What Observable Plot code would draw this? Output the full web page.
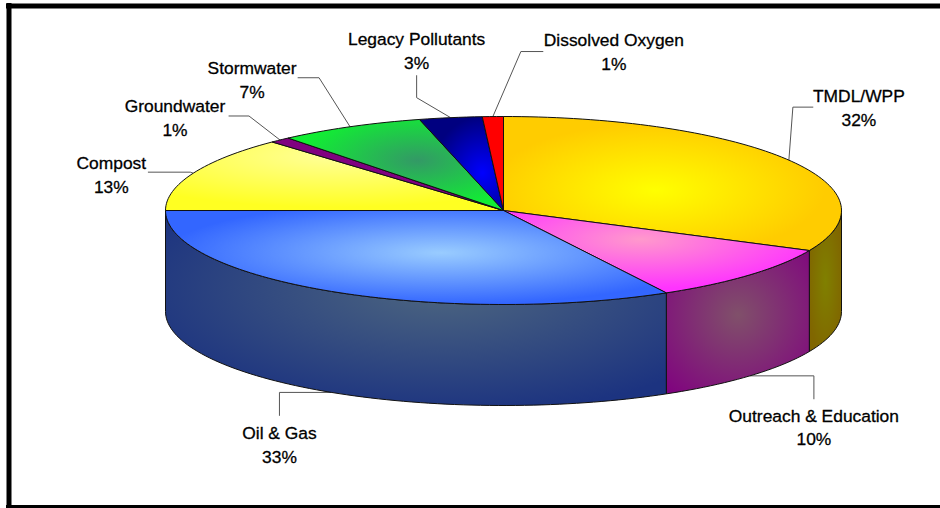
<!DOCTYPE html>
<html>
<head>
<meta charset="utf-8">
<script src="https://cdn.jsdelivr.net/npm/d3@7"></script>
<script src="https://cdn.jsdelivr.net/npm/@observablehq/plot@0.6"></script>
<style>
html,body{margin:0;padding:0;background:#fff;overflow:hidden}
svg{display:block}
</style>
</head>
<body>
<div id="chart"></div>
<script>
// Data, clockwise from 12 o'clock
const categories = ["TMDL/WPP","Outreach & Education","Oil & Gas","Compost","Groundwater","Stormwater","Legacy Pollutants","Dissolved Oxygen"];
const percents = [32,10,33,13,1,7,3,1];

// Gradient colours [centre, edge]
const topColors = [["#ffff00","#ffcc00"],["#ff99cc","#ff33ff"],["#99ccff","#3366ff"],["#ffff99","#ffff22"],["#800080","#800080"],["#339966","#11ee33"],["#0000ff","#000080"],["#ff0000","#ff0000"]];
const wallColors = [["#808000","#806600"],["#80506a","#800080"],["#4d6680","#1c3380"]];

// Pie geometry in chart units
const cx = 503, cy = 210, rx = 338, ry = 94, depth = 101;
// Annotation layout: offsets from the rim anchor of each slice
const elbowOffset = [[4,-53],[64,0],[-52,0],[-3,-1],[-31,-24],[-31,-49],[-34,-20],[28,-65]];
const endOffset = [[24,-53],[64,23],[-52,23],[-45,-1],[-51,-24],[-52,-49],[-34,-42],[50,-65]];
const labelOffset = [[70,-54],[64,50],[-52,51],[-82,0],[-105,-24],[-98,-48],[-34,-68],[121,-66]];

const total = d3.sum(percents);
let acc = 0;
const slices = categories.map((name, i) => {
  const a0 = acc / total * 360; acc += percents[i]; const a1 = acc / total * 360;
  return {name, i, pct: percents[i], a0, a1, mid: (a0 + a1) / 2};
});
const rim = (deg, drop = 0) => {
  const t = deg * Math.PI / 180;
  return {x: cx + rx * Math.sin(t), y: cy - ry * Math.cos(t) + drop};
};
const arc = (a0, a1, drop = 0) => {
  const n = Math.max(2, Math.ceil((a1 - a0) / 1.5));
  return d3.range(n + 1).map(k => rim(a0 + (a1 - a0) * k / n, drop));
};
const topPts = s => { const p = [{x: cx, y: cy}, ...arc(s.a0, s.a1)]; p.push(p[0]); return p; };
const wallPts = (a0, a1) => { const p = [...arc(a0, a1), ...arc(a0, a1, depth).reverse()]; p.push(p[0]); return p; };

const walls = slices
  .map(s => ({...s, lo: Math.max(s.a0, 90), hi: Math.min(s.a1, 270)}))
  .filter(s => s.lo < s.hi);

const isFront = s => s.mid > 90 && s.mid < 270;
const anchor = s => rim(s.mid, isFront(s) ? depth : 0);
const leaders = slices.map(s => {
  const a = anchor(s), e = elbowOffset[s.i], f = endOffset[s.i];
  return [a, {x: a.x + e[0], y: a.y + e[1]}, {x: a.x + f[0], y: a.y + f[1]}];
});
const labels = slices.map(s => {
  const a = anchor(s), l = labelOffset[s.i];
  return {x: a.x + l[0], y: a.y + l[1], text: `${s.name}\n${s.pct}%`};
});

// Gradient focal placement within each slice's box
const topFocus = [[.45,.55],[.45,.35],[.55,.45],[.5,.2],[.5,.5],[.6,.45],[.75,.6],[.5,.5]];
const topRadius = [.5,.6,.55,.75,.5,.55,.6,.5];
const wallFocus = [[.5,.5],[.5,.45],[.55,.4]];
const wallRadius = [.55,.75,.65];
const defs = () => {
  const d = d3.create("svg:defs");
  const add = (id, c, f, r) => {
    const g = d.append("radialGradient").attr("id", id).attr("cx", f[0]).attr("cy", f[1]).attr("r", r);
    g.append("stop").attr("offset", "0%").attr("stop-color", c[0]);
    g.append("stop").attr("offset", "100%").attr("stop-color", c[1]);
  };
  topColors.forEach((c, i) => add("top" + i, c, topFocus[i], topRadius[i]));
  wallColors.forEach((c, i) => add("wall" + i, c, wallFocus[i], wallRadius[i]));
  return d.node();
};

const chart = Plot.plot({
  width: 940, height: 508,
  margin: 0,
  x: {domain: [0, 940], range: [0, 940], axis: null},
  y: {domain: [0, 508], range: [0, 508], axis: null},
  style: {background: "#fff"},
  marks: [
    defs,
    // page border
    Plot.ruleX([8.5], {y1: 3, y2: 508, stroke: "#000", strokeWidth: 5}),
    Plot.ruleY([5.5], {x1: 6, x2: 940, stroke: "#000", strokeWidth: 5}),
    Plot.ruleY([506.5], {x1: 6, x2: 940, stroke: "#000", strokeWidth: 4}),
    // leaders
    ...leaders.map(l => Plot.line(l, {x: "x", y: "y", stroke: "#555", strokeWidth: 1, curve: "linear"})),
    // walls, then the tops
    ...walls.map((s, k) => Plot.line(wallPts(s.lo, s.hi), {x: "x", y: "y", fill: `url(#wall${k})`, stroke: "#111", strokeWidth: 1, curve: "linear"})),
    ...slices.map(s => Plot.line(topPts(s), {x: "x", y: "y", fill: `url(#top${s.i})`, stroke: "#111", strokeWidth: 1, curve: "linear"})),
    // labels
    Plot.text(labels, {x: "x", y: "y", text: "text", fill: "#000", stroke: "#000", strokeWidth: 0.3, fontSize: 17.4, lineHeight: 1.37, lineAnchor: "middle", textAnchor: "middle", fontFamily: "Liberation Sans"})
  ]
});
document.getElementById("chart").append(chart);
</script>
</body>
</html>
